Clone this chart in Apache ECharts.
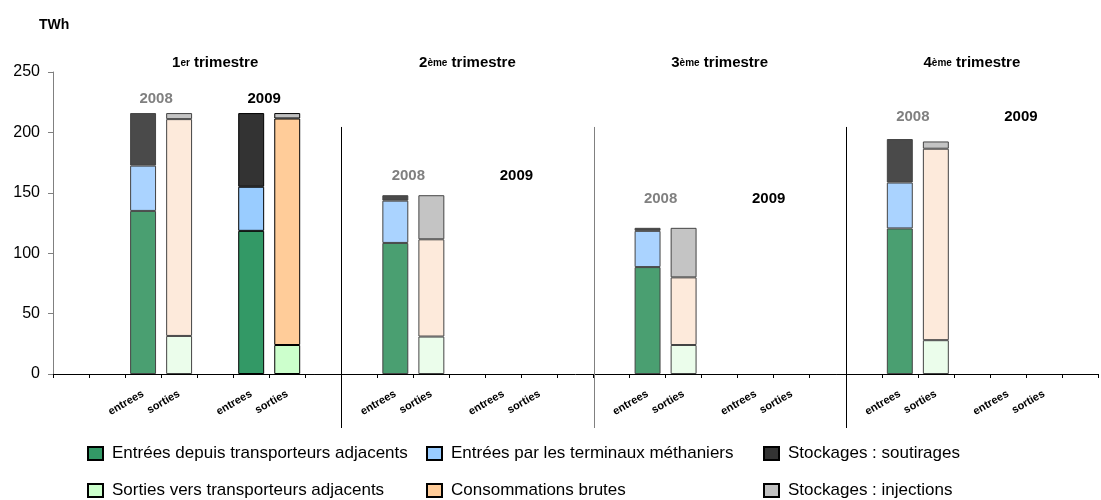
<!DOCTYPE html>
<html><head><meta charset="utf-8">
<script src="https://cdn.jsdelivr.net/npm/echarts@6/dist/echarts.min.js"></script>
<style>html,body{margin:0;padding:0;background:#fff}#c{width:1101px;height:500px}</style>
</head><body><div id="c"></div>
<script>
// ---- data ----
const categories = [
  '', '', 'entrees', 'sorties', '', 'entrees', 'sorties', '',
  '', 'entrees', 'sorties', '', 'entrees', 'sorties', '',
  '', 'entrees', 'sorties', '', 'entrees', 'sorties', '',
  '', 'entrees', 'sorties', '', 'entrees', 'sorties', ''
];
const periods = ['T1 2008', 'T1 2009', 'T2 2008', 'T2 2009', 'T3 2008', 'T3 2009', 'T4 2008', 'T4 2009'];
const periodYear = ['2008', '2009', '2008', '2009', '2008', '2009', '2008', '2009'];
const entreesSlot = [2, 5, 9, 12, 16, 19, 23, 26];
const sortiesSlot = [3, 6, 10, 13, 17, 20, 24, 27];
const entreesAdj  = [135, 118.5, 108.5, null, 88.5, null, 120.5, null];
const entreesTerm = [37.5, 36.5, 35, null, 30, null, 38, null];
const soutirages  = [43.5, 61, 4.5, null, 2.5, null, 36, null];
const sortiesAdj  = [31.5, 24, 31, null, 24, null, 28, null];
const consoBrutes = [179.5, 187.5, 80.5, null, 56, null, 158.5, null];
const injections  = [5, 4.5, 36.5, null, 41, null, 6, null];
const seriesNames = [
  'Entrées depuis transporteurs adjacents', 'Entrées par les terminaux méthaniers', 'Stockages : soutirages',
  'Sorties vers transporteurs adjacents', 'Consommations brutes', 'Stockages : injections'
];
const quarterNum = ['1', '2', '3', '4'];
const quarterSup = ['er', 'ème', 'ème', 'ème'];
const quarterCenterSlot = [4, 11, 18, 25];
const separatorSlot = [8, 15, 22];
const yAxisTicks = { min: 0, max: 250, interval: 50 };

// ---- style / layout ----
const FONT = '"Liberation Sans", Arial, sans-serif';
const colors2009 = ['#339966', '#99ccff', '#333333', '#ccffcc', '#ffcc99', '#c0c0c0'];
const colors2008 = ['#4a9f71', '#aad3ff', '#4a4a4a', '#ebfdeb', '#fdeadb', '#c4c4c4'];
const yearColor = { '2008': '#808080', '2009': '#000000' };
const yearLabelLevel = [228, 164, 145, 213];
const sepColors = ['#000', '#808080', '#000'];
const legendLeft = [87, 426, 763];
const legendTop = [445, 482];

function buildBar(values, slots, sIdx) {
  const arr = categories.map(() => null);
  values.forEach((v, i) => {
    if (v == null) return;
    const is2008 = periodYear[i] === '2008';
    arr[slots[i]] = {
      value: v,
      itemStyle: is2008 ? { color: colors2008[sIdx], borderColor: '#444' } : {}
    };
  });
  return arr;
}
const barValues = [entreesAdj, entreesTerm, soutirages, sortiesAdj, consoBrutes, injections];
const barSlots = [entreesSlot, entreesSlot, entreesSlot, sortiesSlot, sortiesSlot, sortiesSlot];
const barSeries = barValues.map((vals, k) => ({
  name: seriesNames[k],
  type: 'bar',
  stack: 'total',
  barWidth: '72%',
  data: buildBar(vals, barSlots[k], k),
  itemStyle: { color: colors2009[k], borderColor: '#000', borderWidth: 1 },
  emphasis: { disabled: true }
}));

const chart = echarts.init(document.getElementById('c'), null, { renderer: 'canvas' });
chart.setOption({
  animation: false,
  grid: { left: 53, right: 3, top: 72, bottom: 126, containLabel: false },
  xAxis: {
    type: 'category',
    data: categories,
    axisLine: { lineStyle: { color: '#000', width: 1 } },
    axisTick: { show: true, interval: 0, length: 4, lineStyle: { color: '#000' } },
    axisLabel: { interval: 0, rotate: 30, margin: 19, fontSize: 11, fontWeight: 'bold', color: '#000', fontFamily: FONT }
  },
  yAxis: {
    type: 'value',
    min: yAxisTicks.min, max: yAxisTicks.max, interval: yAxisTicks.interval,
    name: 'TWh',
    nameLocation: 'end',
    nameGap: 0,
    nameTextStyle: { fontSize: 14, fontWeight: 'bold', color: '#000', fontFamily: FONT, align: 'left', padding: [0, 0, 40, -14] },
    axisLine: { show: true, lineStyle: { color: '#808080', width: 1 } },
    axisTick: { show: true, length: 5, lineStyle: { color: '#808080' } },
    splitLine: { show: false },
    axisLabel: { fontSize: 16, color: '#000', margin: 13, fontFamily: FONT }
  },
  legend: seriesNames.map((n, k) => ({
    left: legendLeft[k % 3],
    top: legendTop[Math.floor(k / 3)],
    orient: 'horizontal',
    itemWidth: 15,
    itemHeight: 13,
    icon: 'rect',
    selectedMode: false,
    padding: 0,
    data: [n],
    textStyle: { fontSize: 17, lineHeight: 17, color: '#000', fontFamily: FONT, padding: [0, 0, 0, 4] }
  })),
  series: barSeries.concat([
    {
      type: 'custom',
      name: 'separators',
      silent: true,
      data: separatorSlot.map((s, i) => [s, 0, i]),
      encode: { x: 0, y: 1 },
      renderItem: (params, api) => {
        const idx = api.value(0);
        const top = api.coord([idx, 204.5]);
        const base = api.coord([idx, 0]);
        const half = api.size([1, 0])[0] / 2;
        const x = Math.round(top[0] - half) + 0.5;
        return { type: 'line', shape: { x1: x, y1: top[1], x2: x, y2: base[1] + 54 },
          style: { stroke: sepColors[api.value(2)], lineWidth: 1 } };
      }
    },
    {
      type: 'custom',
      name: 'quarters',
      silent: true,
      data: quarterCenterSlot.map((s, i) => [s, 0, i]),
      encode: { x: 0, y: 1 },
      renderItem: (params, api) => {
        const i = api.value(2);
        const p = api.coord([api.value(0), 257.5]);
        return { type: 'text', x: p[0], y: p[1],
          style: { text: '{n|' + quarterNum[i] + '}{s|' + quarterSup[i] + '}{n| trimestre}',
            align: 'center', verticalAlign: 'middle',
            rich: { n: { fontSize: 15, fontWeight: 'bold', fontFamily: FONT, fill: '#000', color: '#000' },
                    s: { fontSize: 10, fontWeight: 'bold', fontFamily: FONT, fill: '#000', color: '#000' } } } };
      }
    },
    {
      type: 'custom',
      name: 'years',
      silent: true,
      data: periods.map((p, i) => [entreesSlot[i], 0, i]),
      encode: { x: 0, y: 1 },
      renderItem: (params, api) => {
        const i = api.value(2);
        const q = Math.floor(i / 2);
        const half = api.size([1, 0])[0] / 2;
        const p = api.coord([api.value(0), yearLabelLevel[q]]);
        const yr = periodYear[i];
        return { type: 'text', x: p[0] + half - 5, y: p[1],
          style: { text: yr, fill: yearColor[yr], fontSize: 15, fontWeight: 'bold', fontFamily: FONT,
            align: 'center', verticalAlign: 'middle' } };
      }
    }
  ])
});
</script>
</body></html>
